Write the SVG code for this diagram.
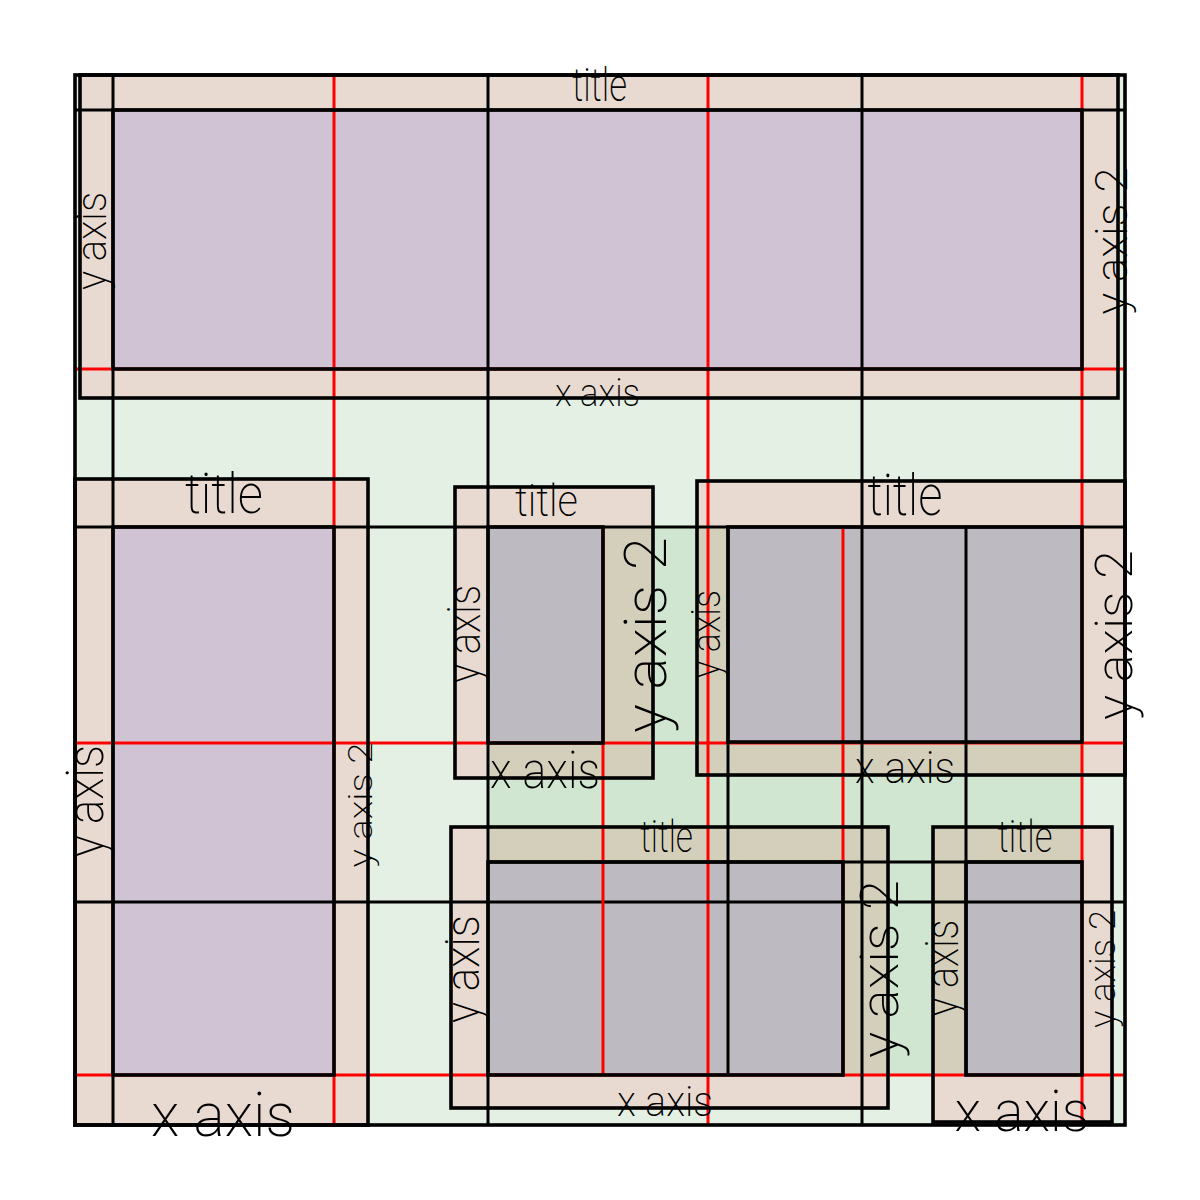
<svg xmlns="http://www.w3.org/2000/svg" width="1200" height="1200" viewBox="0 0 1200 1200">
<style>
.fig{fill:#e5f0e5}
.nest{fill:#d0e6d0}
.tan{fill:#e8dad0}
.olive{fill:#d4cfba}
.pax{fill:#d0c4d4}
.gax{fill:#bdbbc1}
.box{fill:none;stroke:#000;stroke-width:3.6}
.gk{stroke:#000;stroke-width:3;fill:none}
.gr{stroke:#ff0000;stroke-width:3;fill:none}
text{font-family:Roboto,"Liberation Sans",sans-serif;font-weight:200;fill:#000;text-anchor:middle}
</style>
<rect width="1200" height="1200" fill="#fff"/>
<g id="fills">
<rect class="fig" x="75" y="75" width="1050" height="1050"/>
<rect class="nest" x="488" y="527" width="594" height="548"/>
<rect class="tan" x="80" y="75" width="1038" height="323"/>
<rect class="tan" x="75" y="479" width="293" height="646"/>
<rect class="tan" x="455" y="487" width="198" height="291"/>
<rect class="olive" x="488" y="527" width="165" height="251"/>
<rect class="tan" x="697" y="481" width="428" height="294"/>
<rect class="olive" x="697" y="527" width="385" height="248"/>
<rect class="tan" x="451" y="827" width="437" height="281"/>
<rect class="olive" x="488" y="827" width="400" height="248"/>
<rect class="tan" x="933" y="827" width="179" height="295"/>
<rect class="olive" x="933" y="827" width="149" height="248"/>
<rect class="pax" x="113" y="110" width="969" height="259"/>
<rect class="pax" x="113" y="527" width="221" height="548"/>
<rect class="gax" x="488" y="527" width="115" height="216"/>
<rect class="gax" x="728" y="527" width="354" height="215"/>
<rect class="gax" x="488" y="862" width="355" height="213"/>
<rect class="gax" x="966" y="862" width="116" height="213"/>
</g>
<g id="connectors">
<path class="gr" d="M334 75V1125M708 75V1125M1082 75V1125M75 369H1125M75 743H1125M75 1075H1125"/>
<path class="gk" d="M113 75V1125M488 75V1125M862 75V1125M75 110H1125M75 527H1125M75 902H1125"/>
<path class="gr" d="M603 527V1075M843 527V1075"/>
<path class="gk" d="M728 527V1075M966 527V1075M488 862H1082"/>
</g>
<g id="figure"><rect class="box" x="75" y="75" width="1050" height="1050"/></g>
<g id="ax-top">
<rect class="box" x="80" y="75" width="1038" height="323"/>
<rect class="box" x="113" y="110" width="969" height="259"/>
<text x="599.5" y="101" font-size="46" textLength="55" lengthAdjust="spacingAndGlyphs">title</text>
<text x="597.5" y="406" font-size="38" textLength="85" lengthAdjust="spacingAndGlyphs">x axis</text>
<text transform="translate(106,241) rotate(-90)" font-size="42" textLength="98" lengthAdjust="spacingAndGlyphs">y axis</text>
<text transform="translate(1127,241) rotate(-90)" font-size="44" textLength="147" lengthAdjust="spacingAndGlyphs">y axis 2</text>
</g>
<g id="ax-left">
<rect class="box" x="75" y="479" width="293" height="646"/>
<rect class="box" x="113" y="527" width="221" height="548"/>
<text x="224" y="513" font-size="56" textLength="78" lengthAdjust="spacingAndGlyphs">title</text>
<text x="223" y="1136" font-size="62" textLength="144" lengthAdjust="spacingAndGlyphs">x axis</text>
<text transform="translate(103,801) rotate(-90)" font-size="52" textLength="112" lengthAdjust="spacingAndGlyphs">y axis</text>
<text transform="translate(372,805) rotate(-90)" font-size="34" textLength="125" lengthAdjust="spacingAndGlyphs">y axis 2</text>
</g>
<g id="ax-nested-tl">
<rect class="box" x="455" y="487" width="198" height="291"/>
<rect class="box" x="488" y="527" width="115" height="216"/>
<text x="546.5" y="516" font-size="45" textLength="63" lengthAdjust="spacingAndGlyphs">title</text>
<text x="545" y="788" font-size="52" textLength="110" lengthAdjust="spacingAndGlyphs">x axis</text>
<text transform="translate(480,634) rotate(-90)" font-size="46" textLength="98" lengthAdjust="spacingAndGlyphs">y axis</text>
<text transform="translate(666,635) rotate(-90)" font-size="60" textLength="196" lengthAdjust="spacingAndGlyphs">y axis 2</text>
</g>
<g id="ax-nested-tr">
<rect class="box" x="697" y="481" width="428" height="294"/>
<rect class="box" x="728" y="527" width="354" height="215"/>
<text x="905" y="515" font-size="57" textLength="75" lengthAdjust="spacingAndGlyphs">title</text>
<text x="905" y="783" font-size="44" textLength="100" lengthAdjust="spacingAndGlyphs">x axis</text>
<text transform="translate(720,634) rotate(-90)" font-size="40" textLength="88" lengthAdjust="spacingAndGlyphs">y axis</text>
<text transform="translate(1132,635) rotate(-90)" font-size="52" textLength="170" lengthAdjust="spacingAndGlyphs">y axis 2</text>
</g>
<g id="ax-nested-bl">
<rect class="box" x="451" y="827" width="437" height="281"/>
<rect class="box" x="488" y="862" width="355" height="213"/>
<text x="666.5" y="852" font-size="44" textLength="53" lengthAdjust="spacingAndGlyphs">title</text>
<text x="665" y="1116" font-size="43" textLength="96" lengthAdjust="spacingAndGlyphs">x axis</text>
<text transform="translate(479,969) rotate(-90)" font-size="48" textLength="108" lengthAdjust="spacingAndGlyphs">y axis</text>
<text transform="translate(898,969) rotate(-90)" font-size="54" textLength="178" lengthAdjust="spacingAndGlyphs">y axis 2</text>
</g>
<g id="ax-nested-br">
<rect class="box" x="933" y="827" width="179" height="295"/>
<rect class="box" x="966" y="862" width="116" height="213"/>
<text x="1025" y="852" font-size="45" textLength="55" lengthAdjust="spacingAndGlyphs">title</text>
<text x="1022" y="1131" font-size="58" textLength="135" lengthAdjust="spacingAndGlyphs">x axis</text>
<text transform="translate(958,968) rotate(-90)" font-size="46" textLength="97" lengthAdjust="spacingAndGlyphs">y axis</text>
<text transform="translate(1115,969) rotate(-90)" font-size="36" textLength="118" lengthAdjust="spacingAndGlyphs">y axis 2</text>
</g>
</svg>
